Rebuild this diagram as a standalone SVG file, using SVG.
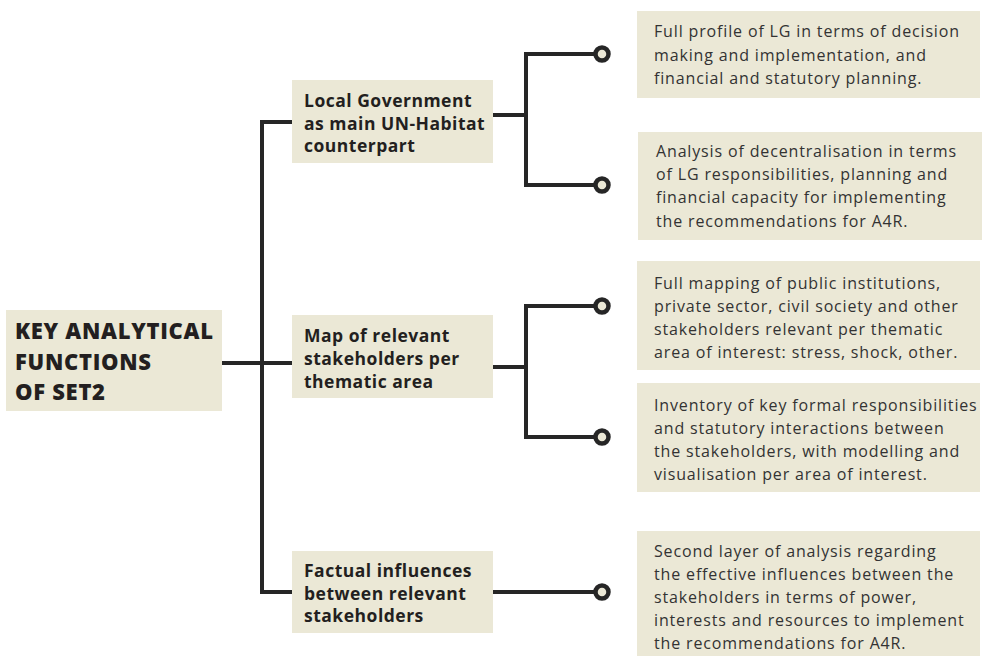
<svg xmlns="http://www.w3.org/2000/svg" width="985" height="664" viewBox="0 0 985 664">
  <style>
    .box { fill: #ebe8d6; }
    .wire { fill: none; stroke: #262626; stroke-width: 4; stroke-linejoin: miter; stroke-linecap: butt; }
    .dot { fill: #ebe8d6; stroke: #262626; stroke-width: 4.5; }
    .root { font-family: "Open Sans", "Liberation Sans", sans-serif; font-weight: 800; font-size: 22px; letter-spacing: 0.7px; fill: #231f20; }
    .head { font-family: "Open Sans", "Liberation Sans", sans-serif; font-weight: 700; font-size: 17.5px; letter-spacing: 0.5px; fill: #231f20; }
    .body { font-family: "Open Sans", "Liberation Sans", sans-serif; font-weight: 400; font-size: 16px; letter-spacing: 0.85px; fill: #333333; }
  </style>
  <rect width="985" height="664" fill="#ffffff"/>

  <!-- connectors -->
  <g id="connectors">
    <!-- root to trunk -->
    <path class="wire" d="M222 363 H292"/>
    <!-- trunk with branches -->
    <path class="wire" d="M292 122 H262 V592 H292"/>
    <!-- Local Government fork -->
    <path class="wire" d="M493 115 H526"/>
    <path class="wire" d="M595 54 H526 V185 H595"/>
    <!-- Stakeholder map fork -->
    <path class="wire" d="M493 367 H526"/>
    <path class="wire" d="M595 306 H526 V437 H595"/>
    <!-- Factual influences -->
    <path class="wire" d="M493 592 H595"/>
    <circle class="dot" cx="602" cy="54" r="6.5"/>
    <circle class="dot" cx="602" cy="185" r="6.5"/>
    <circle class="dot" cx="602" cy="306" r="6.5"/>
    <circle class="dot" cx="602" cy="437" r="6.5"/>
    <circle class="dot" cx="602" cy="592" r="6.5"/>
  </g>

  <g id="root">
    <rect class="box" x="6" y="310" width="216" height="101"/>
    <text class="root" x="15" y="339">KEY ANALYTICAL</text>
    <text class="root" x="15" y="370">FUNCTIONS</text>
    <text class="root" x="15" y="400">OF SET2</text>
  </g>

  <g id="local-government">
    <rect class="box" x="292" y="80" width="201" height="83"/>
    <text class="head" x="304" y="107">Local Government</text>
    <text class="head" x="304" y="130">as main UN-Habitat</text>
    <text class="head" x="304" y="152">counterpart</text>
  </g>

  <g id="stakeholder-map">
    <rect class="box" x="292" y="315" width="201" height="83"/>
    <text class="head" x="304" y="342">Map of relevant</text>
    <text class="head" x="304" y="365">stakeholders per</text>
    <text class="head" x="304" y="388">thematic area</text>
  </g>

  <g id="factual-influences">
    <rect class="box" x="292" y="551" width="201" height="82"/>
    <text class="head" x="304" y="577">Factual influences</text>
    <text class="head" x="304" y="600">between relevant</text>
    <text class="head" x="304" y="622">stakeholders</text>
  </g>

  <g id="lg-profile">
    <rect class="box" x="637" y="11" width="343" height="87"/>
    <text class="body" x="654" y="37">Full profile of LG in terms of decision</text>
    <text class="body" x="654" y="61">making and implementation, and</text>
    <text class="body" x="654" y="84">financial and statutory planning.</text>
  </g>

  <g id="decentralisation">
    <rect class="box" x="638" y="132" width="344" height="108"/>
    <text class="body" x="656" y="157">Analysis of decentralisation in terms</text>
    <text class="body" x="656" y="180">of LG responsibilities, planning and</text>
    <text class="body" x="656" y="203">financial capacity for implementing</text>
    <text class="body" x="656" y="227">the recommendations for A4R.</text>
  </g>

  <g id="institution-mapping">
    <rect class="box" x="637" y="261" width="343" height="109"/>
    <text class="body" x="654" y="289">Full mapping of public institutions,</text>
    <text class="body" x="654" y="312">private sector, civil society and other</text>
    <text class="body" x="654" y="335">stakeholders relevant per thematic</text>
    <text class="body" x="654" y="358">area of interest: stress, shock, other.</text>
  </g>

  <g id="responsibilities-inventory">
    <rect class="box" x="637" y="383" width="343" height="109"/>
    <text class="body" x="654" y="411">Inventory of key formal responsibilities</text>
    <text class="body" x="654" y="434">and statutory interactions between</text>
    <text class="body" x="654" y="457">the stakeholders, with modelling and</text>
    <text class="body" x="654" y="480">visualisation per area of interest.</text>
  </g>

  <g id="influence-analysis">
    <rect class="box" x="637" y="531" width="343" height="125"/>
    <text class="body" x="654" y="557">Second layer of analysis regarding</text>
    <text class="body" x="654" y="580">the effective influences between the</text>
    <text class="body" x="654" y="603">stakeholders in terms of power,</text>
    <text class="body" x="654" y="626">interests and resources to implement</text>
    <text class="body" x="654" y="649">the recommendations for A4R.</text>
  </g>
</svg>
